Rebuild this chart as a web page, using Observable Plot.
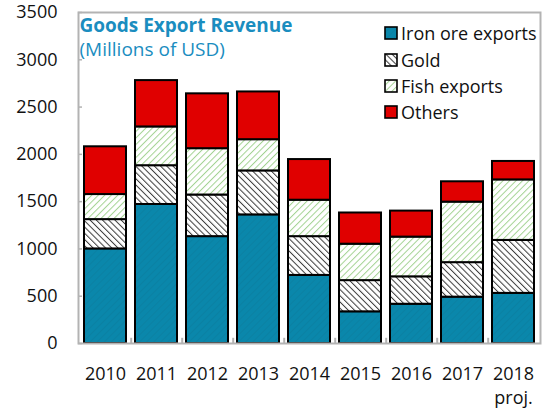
<!DOCTYPE html>
<html>
<head>
<meta charset="utf-8">
<script src="https://cdn.jsdelivr.net/npm/d3@7"></script>
<script src="https://cdn.jsdelivr.net/npm/@observablehq/plot@0.6"></script>
<style>
  html, body { margin: 0; padding: 0; background: #fff; }
  #wrap { position: relative; width: 545px; height: 413px; font-family: "Open Sans", sans-serif; }
  #legend { position: absolute; left: 384px; top: 20px; font-size: 18px; color: #111; }
  #legend .row { display: flex; align-items: center; height: 26.4px; white-space: nowrap; }
  #legend svg { margin-right: 3px; }
</style>
</head>
<body>
<div id="wrap"></div>
<script>
// ---- data ----
const years = ["2010", "2011", "2012", "2013", "2014", "2015", "2016", "2017", "2018"];
const xTickLabels = ["2010", "2011", "2012", "2013", "2014", "2015", "2016", "2017", "2018\nproj."];
const series = ["Iron ore exports", "Gold", "Fish exports", "Others"];
const ironOre = [1000, 1470, 1130, 1360, 720, 335, 415, 490, 530];
const gold    = [310, 410, 440, 465, 410, 330, 290, 365, 560];
const fish    = [265, 410, 490, 330, 385, 385, 420, 640, 640];
const others  = [505, 490, 580, 505, 430, 330, 275, 215, 195];
const yTicks = [0, 500, 1000, 1500, 2000, 2500, 3000, 3500];
const title = "Goods Export Revenue";
const subtitle = "(Millions of USD)";

const seriesValues = [ironOre, gold, fish, others];
const fills = ["url(#pIron)", "url(#pGold)", "url(#pFish)", "url(#pOthers)"];

const rows = [];
years.forEach((y, i) => {
  series.forEach((s, j) => rows.push({year: y, series: s, value: seriesValues[j][i]}));
});

const patternDefs = `
  <pattern id="pIron" patternUnits="userSpaceOnUse" width="5" height="5" patternTransform="rotate(45)">
    <rect width="5" height="5" fill="#0a87ab"/>
    <line x1="0" y1="0" x2="0" y2="5" stroke="#0b7fa0" stroke-width="1.5"/>
  </pattern>
  <pattern id="pGold" patternUnits="userSpaceOnUse" width="4.4" height="4.4" patternTransform="rotate(-45)">
    <rect width="4.4" height="4.4" fill="#ffffff"/>
    <line x1="0" y1="0" x2="0" y2="4.4" stroke="#3a3a3a" stroke-width="2"/>
  </pattern>
  <pattern id="pFish" patternUnits="userSpaceOnUse" width="4.6" height="4.6" patternTransform="rotate(45)">
    <rect width="4.6" height="4.6" fill="#ffffff"/>
    <line x1="0" y1="0" x2="0" y2="4.6" stroke="#a3d393" stroke-width="2"/>
  </pattern>
  <pattern id="pOthers" patternUnits="userSpaceOnUse" width="5" height="5">
    <rect width="5" height="5" fill="#e00000"/>
  </pattern>`;

const chart = Plot.plot({
  width: 545,
  height: 413,
  marginLeft: 78,
  marginRight: 5,
  marginTop: 12,
  marginBottom: 70,
  style: {fontFamily: "'Open Sans', sans-serif", fontSize: "18px", color: "#111", background: "#fff"},
  x: {type: "band", domain: years, paddingInner: 0.18, paddingOuter: 0.08},
  y: {domain: [0, 3500]},
  color: {type: "ordinal", domain: series, range: fills},
  marks: [
    Plot.barY(rows, {x: "year", y: "value", fill: "series", stroke: "#000", strokeWidth: 2}),
    Plot.frame({stroke: "#b3b3b3", strokeWidth: 2}),
    Plot.ruleX(years.slice(0, -1), {x: d => d, dx: 25.7, y1: 0, y2: 55, stroke: "#b3b3b3", strokeWidth: 2}),
    Plot.axisY({ticks: yTicks, tickSize: -4, tickPadding: 25, stroke: "#b3b3b3", strokeWidth: 1.5, fontSize: 18,
      tickFormat: d => String(d), label: null}),
    Plot.axisX({tickSize: 0, tickPadding: 19, fontSize: 18, lineHeight: 1.35, label: null,
      tickFormat: d => xTickLabels[years.indexOf(d)]}),
    Plot.text([title], {frameAnchor: "top-left", dx: 1, dy: 6, text: d => d, fontSize: 19, fontWeight: "bold", fill: "#1a8dbf"}),
    Plot.text([subtitle], {frameAnchor: "top-left", dx: 1, dy: 30, text: d => d, fontSize: 19, fill: "#1a8dbf"})
  ]
});

const defs = document.createElementNS("http://www.w3.org/2000/svg", "defs");
defs.innerHTML = patternDefs;
chart.insertBefore(defs, chart.firstChild);

const wrap = document.getElementById("wrap");
wrap.appendChild(chart);

// legend
const legend = document.createElement("div");
legend.id = "legend";
legend.innerHTML = `<svg width="0" height="0" style="position:absolute"><defs>${patternDefs.replace(/id="p/g, 'id="l')}</defs></svg>` +
  series.map((s, j) => `<div class="row"><svg width="14" height="14"><rect x="1" y="1" width="12" height="12" fill="${fills[j].replace('#p', '#l')}" stroke="#000" stroke-width="1.6"/></svg><span>${s}</span></div>`).join("");
wrap.appendChild(legend);
</script>
</body>
</html>
